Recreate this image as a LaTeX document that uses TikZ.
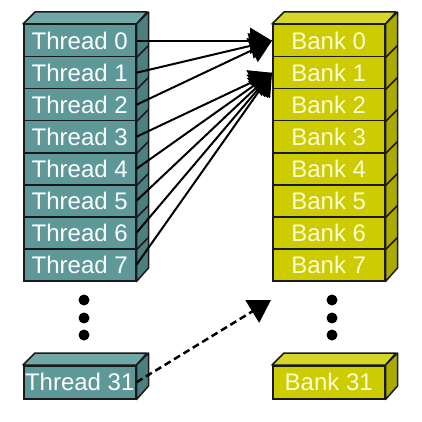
\documentclass[tikz,border=0pt]{standalone}
\usepackage{fontspec}
\setmainfont{Liberation Sans}
\usetikzlibrary{arrows.meta}

\definecolor{threadfront}{RGB}{94,152,152}
\definecolor{threadside}{RGB}{76,128,128}
\definecolor{threadtop}{RGB}{112,168,168}
\definecolor{bankfront}{RGB}{204,204,0}
\definecolor{bankside}{RGB}{170,170,0}
\definecolor{banktop}{RGB}{214,214,40}
\definecolor{banktext}{RGB}{252,252,215}

\tikzset{
  cell/.style={draw=black!90, line width=1.5pt, minimum width=112pt, minimum height=32pt,
    inner sep=0pt, anchor=north west, font=\fontsize{24}{24}\selectfont},
  thread/.style={cell, fill=threadfront, text=white},
  bank/.style={cell, fill=bankfront, text=banktext},
  face/.style={draw=black!90, line width=1.5pt, line join=round},
  link/.style={line width=2pt, -{Triangle[length=22pt,width=26pt]}},
  dot/.style={circle, fill=black, inner sep=0pt, minimum size=11pt},
}

\begin{document}
\begin{tikzpicture}[x=1pt,y=-1pt]
  \useasboundingbox (0,0) rectangle (421,422);

  % thread column
  \foreach \i in {0,...,7}
    \node[thread] (T\i) at (23,24+32*\i) {Thread \i};
  \node[thread, minimum height=33pt] (T31) at (23,365) {Thread 31};

  % bank column
  \foreach \i in {0,...,7}
    \node[bank] (B\i) at (272,24+32*\i) {Bank \i};
  \node[bank, minimum height=33pt] (B31) at (272,365) {Bank 31};

  % 3d faces
  \filldraw[face, fill=threadtop] (T0.north west) -- ++(12,-12) -- ++(112,0) -- (T0.north east) -- cycle;
  \filldraw[face, fill=threadside] (T0.north east) -- ++(12,-12) -- ++(0,256) -- (T7.south east) -- cycle;
  \filldraw[face, fill=banktop] (B0.north west) -- ++(12,-12) -- ++(112,0) -- (B0.north east) -- cycle;
  \filldraw[face, fill=bankside] (B0.north east) -- ++(12,-12) -- ++(0,256) -- (B7.south east) -- cycle;
  \foreach \i in {0,...,6} {
    \draw[face] (T\i.south east) -- ++(12,-12);
    \draw[face] (B\i.south east) -- ++(12,-12);
  }
  \filldraw[face, fill=threadtop] (T31.north west) -- ++(12,-12) -- ++(112,0) -- (T31.north east) -- cycle;
  \filldraw[face, fill=threadside] (T31.north east) -- ++(12,-12) -- ++(0,33) -- (T31.south east) -- cycle;
  \filldraw[face, fill=banktop] (B31.north west) -- ++(12,-12) -- ++(112,0) -- (B31.north east) -- cycle;
  \filldraw[face, fill=bankside] (B31.north east) -- ++(12,-12) -- ++(0,33) -- (B31.south east) -- cycle;

  % dots
  \foreach \k/\y in {1/300,2/318,3/335} {
    \node[dot] (td\k) at (84,\y) {};
    \node[dot] (bd\k) at (332,\y) {};
  }

  % accesses
  \foreach \i in {0,1,2}
    \draw[link] (T\i.east) -- (B0.west);
  \foreach \i in {3,...,7}
    \draw[link] (T\i.east) -- (B1.west);

  \coordinate (gap) at (271,300);
  \draw[link, line width=2.5pt, dash pattern=on 7pt off 4pt] (T31.east) -- (gap);
\end{tikzpicture}
\end{document}
